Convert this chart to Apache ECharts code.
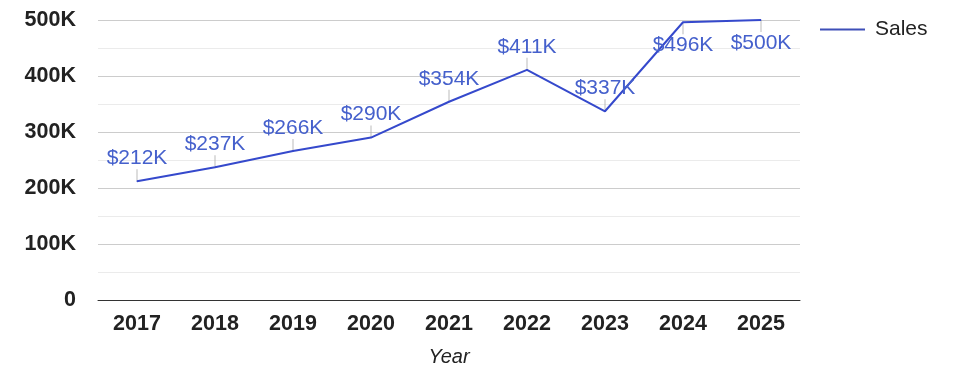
<!DOCTYPE html>
<html><head><meta charset="utf-8">
<script src="https://cdn.jsdelivr.net/npm/echarts@6/dist/echarts.min.js"></script>
<style>html,body{margin:0;padding:0;background:#fff}#c{width:975px;height:378px}</style>
</head><body><div id="c"></div>
<script>
const years = ['2017','2018','2019','2020','2021','2022','2023','2024','2025'];
const sales = [212000, 237000, 266000, 290000, 354000, 411000, 337000, 496000, 500000];
const yTicks = [0, 100000, 200000, 300000, 400000, 500000];

const lineColor = '#3549cc';
const below = v => v > 450000;
const chart = echarts.init(document.getElementById('c'));
chart.setOption({
  animation: false,
  backgroundColor: '#fff',
  textStyle: { fontFamily: 'Liberation Sans, Arial, sans-serif' },
  grid: { left: 98, right: 175, top: 20, bottom: 78 },
  legend: {
    left: 820, top: 19, padding: 0, itemWidth: 45, itemHeight: 2, itemGap: 8,
    icon: 'rect',
    textStyle: { fontSize: 21, color: '#222', padding: [0, 0, 0, 5] },
    data: [{ name: 'Sales', itemStyle: { color: '#3e4fb8' } }]
  },
  xAxis: {
    type: 'category', data: years, boundaryGap: true,
    axisLine: { lineStyle: { color: '#333', width: 1 } },
    axisTick: { show: false },
    axisLabel: { fontSize: 21.5, fontWeight: 'bold', color: '#222', margin: 13 },
    name: 'Year', nameLocation: 'middle', nameGap: 47,
    nameTextStyle: { fontSize: 20, fontStyle: 'italic', color: '#222' }
  },
  yAxis: {
    type: 'value', min: yTicks[0], max: yTicks[yTicks.length - 1], interval: 100000,
    axisLine: { show: false }, axisTick: { show: false },
    axisLabel: {
      fontSize: 21.5, fontWeight: 'bold', color: '#222', margin: 22,
      formatter: v => v === 0 ? '0' : (v / 1000) + 'K'
    },
    splitLine: { lineStyle: { color: '#cccccc' } },
    minorTick: { show: false, splitNumber: 2 },
    minorSplitLine: { show: true, lineStyle: { color: '#ebebeb' } }
  },
  series: [
    {
      name: 'Sales', type: 'line', data: sales.map(v => ({
        value: v,
        label: { position: below(v) ? 'bottom' : 'top' }
      })),
      showSymbol: true, symbol: 'circle', symbolSize: 1,
      lineStyle: { color: lineColor, width: 2 },
      itemStyle: { color: lineColor },
      label: {
        show: true, fontSize: 21, color: '#4560cc', distance: 12,
        formatter: p => '$' + Math.round(p.value / 1000) + 'K'
      },
      z: 3
    },
    {
      type: 'scatter', silent: true, legendHoverLink: false,
      data: sales.map(v => ({
        value: v,
        symbolOffset: [0, below(v) ? 6 : -6]
      })),
      symbol: 'rect', symbolSize: [1, 12],
      itemStyle: { color: '#aaaaaa' },
      z: 2
    }
  ]
});
</script></body></html>
